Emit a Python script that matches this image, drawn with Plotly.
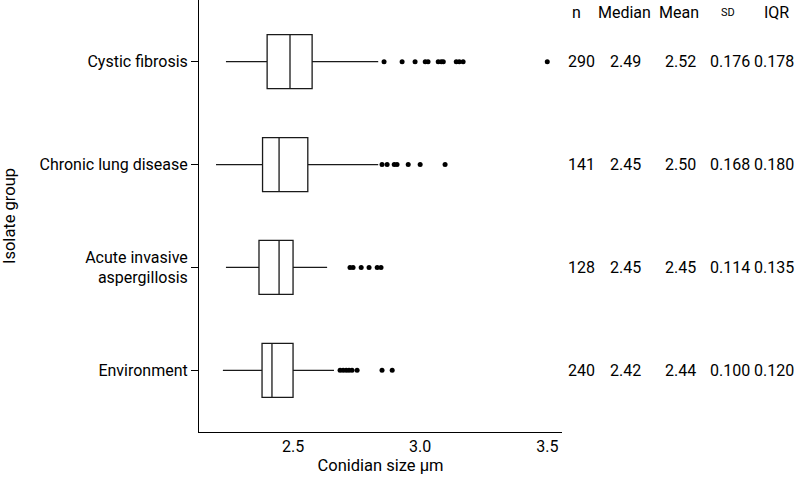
import plotly.graph_objects as go

groups = ["Cystic fibrosis", "Chronic lung disease", "Acute invasive<br>aspergillosis", "Environment"]
lower_whisker = [2.236, 2.197, 2.236, 2.224]
q1 = [2.398, 2.380, 2.366, 2.378]
median = [2.488, 2.445, 2.445, 2.417]
q3 = [2.575, 2.558, 2.500, 2.500]
upper_whisker = [2.835, 2.835, 2.634, 2.661]
outliers = [
    [2.858, 2.929, 2.980, 3.020, 3.031, 3.071, 3.083, 3.091, 3.142, 3.154, 3.169, 3.500],
    [2.850, 2.870, 2.898, 2.909, 2.953, 3.000, 3.098],
    [2.724, 2.736, 2.768, 2.799, 2.831, 2.846],
    [2.685, 2.697, 2.709, 2.720, 2.732, 2.752, 2.850, 2.890],
]
n_vals = ["290", "141", "128", "240"]
median_txt = ["2.49", "2.45", "2.45", "2.42"]
mean_txt = ["2.52", "2.50", "2.45", "2.44"]
sd_txt = ["0.176", "0.168", "0.114", "0.100"]
iqr_txt = ["0.178", "0.180", "0.135", "0.120"]
x_ticks = [2.5, 3.0, 3.5]
x_ticklabels = ["2.5", "3.0", "3.5"]

FONT = "Roboto"
fig = go.Figure()
fig.add_trace(go.Box(
    y=groups, orientation="h",
    q1=q1, median=median, q3=q3,
    lowerfence=lower_whisker, upperfence=upper_whisker,
    fillcolor="white", line=dict(color="#1a1a1a", width=1.3),
    whiskerwidth=0, boxpoints=False, showlegend=False,
))
ox, oy = [], []
for g, vals in zip(groups, outliers):
    for v in vals:
        ox.append(v)
        oy.append(g)
fig.add_trace(go.Scatter(x=ox, y=oy, mode="markers",
                         marker=dict(color="black", size=5),
                         showlegend=False, cliponaxis=False))

L, R, T, B = 199, 562, 0, 432
def px(xp):
    return (xp - L) / (R - L)

cols = [
    ("n", n_vals, 576, 581, 16),
    ("Median", median_txt, 624, 625, 16),
    ("Mean", mean_txt, 679, 680, 16),
    ("SD", sd_txt, 728, 730, 11),
    ("IQR", iqr_txt, 776, 774, 16),
]
for head, vals, hx, vx, hs in cols:
    fig.add_annotation(text=head, xref="paper", yref="paper", x=px(hx), y=(B - 12) / B,
                       showarrow=False, xanchor="center", yanchor="middle",
                       font=dict(family=FONT, size=hs, color="black"))
    for g, v in zip(groups, vals):
        fig.add_annotation(text=v, xref="paper", yref="y", x=px(vx), y=g,
                           showarrow=False, xanchor="center", yanchor="middle",
                           font=dict(family=FONT, size=16, color="black"))

fig.update_layout(
    width=796, height=478,
    margin=dict(l=L, r=796 - R, t=T, b=478 - B),
    paper_bgcolor="white", plot_bgcolor="white",
    font=dict(family=FONT, size=16, color="black"),
    boxgap=0.25,
    xaxis=dict(range=[2.13, 3.558], tickvals=x_ticks, ticktext=x_ticklabels,
               showgrid=False, zeroline=False, showline=True, linecolor="black",
               linewidth=1, ticks="", title=dict(text="Conidian size µm", standoff=4,
                                                 font=dict(size=16.5)),
               tickfont=dict(size=16)),
    yaxis=dict(categoryorder="array", categoryarray=groups[::-1], range=[-0.6, 3.6],
               showgrid=False, zeroline=False, showline=True, linecolor="black",
               linewidth=1, ticks="outside", ticklen=7, tickcolor="black",
               title=dict(text="Isolate group", standoff=24, font=dict(size=16.5)),
               tickfont=dict(size=16)),
)
fig.write_html("out.html", config={"displayModeBar": False},
               post_script="document.body.style.margin='0';")
